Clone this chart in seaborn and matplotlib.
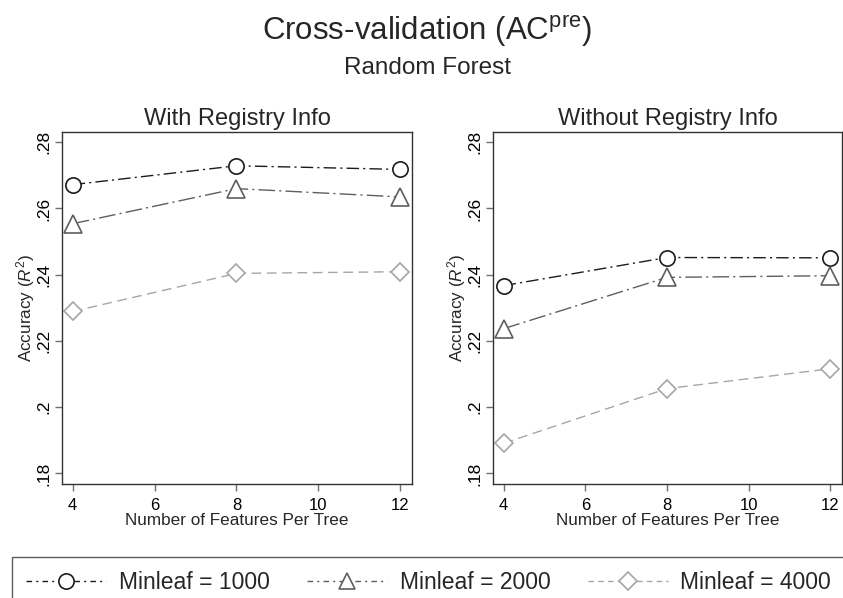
import matplotlib
matplotlib.use("Agg")
import matplotlib.pyplot as plt
from matplotlib.lines import Line2D
import pandas as pd
import seaborn as sns

# Features per tree evaluated
features = [4, 8, 12]
minleaf_labels = ["Minleaf = 1000", "Minleaf = 2000", "Minleaf = 4000"]

# Cross-validated R^2, with registry information
with_1000 = [0.2672, 0.2729, 0.2718]
with_2000 = [0.2554, 0.2660, 0.2635]
with_4000 = [0.2289, 0.2404, 0.2409]

# Cross-validated R^2, without registry information
without_1000 = [0.2367, 0.2452, 0.2451]
without_2000 = [0.2237, 0.2392, 0.2397]
without_4000 = [0.1891, 0.2056, 0.2116]

panel_titles = ["With Registry Info", "Without Registry Info"]
y_ticks = [0.18, 0.20, 0.22, 0.24, 0.26, 0.28]
y_ticklabels = [".18", ".2", ".22", ".24", ".26", ".28"]
x_ticks = [4, 6, 8, 10, 12]

sns.set_style("ticks")
plt.rcParams["font.family"] = ["Liberation Sans", "DejaVu Sans"]
plt.rcParams["mathtext.fontset"] = "custom"
plt.rcParams["mathtext.rm"] = "Liberation Sans"
plt.rcParams["mathtext.it"] = "Liberation Sans:italic"

rows = []
for panel, series in zip(panel_titles,
                         [[with_1000, with_2000, with_4000],
                          [without_1000, without_2000, without_4000]]):
    for lab, vals in zip(minleaf_labels, series):
        for f, v in zip(features, vals):
            rows.append({"panel": panel, "minleaf": lab, "features": f, "r2": v})
df = pd.DataFrame(rows)

styles = {
    "Minleaf = 1000": dict(color="#1c1c1c", marker="o", ms=11,
                           dashes=(9, 3, 1.5, 3), leg_dashes=(4, 3, 1.5, 3)),
    "Minleaf = 2000": dict(color="#5e5e5e", marker="^", ms=12.5,
                           dashes=(12, 3, 1.5, 3), leg_dashes=(4, 3, 1.5, 3)),
    "Minleaf = 4000": dict(color="#a6a6a6", marker="D", ms=9,
                           dashes=(7, 4), leg_dashes=(4, 3)),
}

fig = plt.figure(figsize=(8.43, 5.98), dpi=100)
axes = [fig.add_axes([62 / 843, 1 - 484 / 598, 350 / 843, 352 / 598]),
        fig.add_axes([493 / 843, 1 - 484 / 598, 349 / 843, 352 / 598])]

for ax, panel in zip(axes, panel_titles):
    sub = df[df["panel"] == panel]
    for lab in minleaf_labels:
        st = styles[lab]
        d = sub[sub["minleaf"] == lab]
        sns.lineplot(data=d, x="features", y="r2", ax=ax, color=st["color"],
                     lw=1.0, marker=st["marker"], ms=st["ms"],
                     mfc="white", mec=st["color"], mew=1.2,
                     dashes=st["dashes"], legend=False)
    ax.set_xlim(3.74, 12.29)
    ax.set_ylim(0.1768, 0.2831)
    ax.set_xticks(x_ticks)
    ax.set_xticklabels([str(t) for t in x_ticks], fontsize=12)
    ax.set_yticks(y_ticks)
    ax.set_yticklabels(y_ticklabels, fontsize=12.5, rotation=90, va="center")
    ax.tick_params(axis="both", length=5, width=1, color="#707070", pad=3,
                   labelcolor="black")
    ax.tick_params(axis="x", pad=5)
    for s in ax.spines.values():
        s.set_visible(True)
        s.set_color("#333333")
        s.set_linewidth(1.0)
    ax.set_xlabel("Number of Features Per Tree", fontsize=12.3, labelpad=0)
    ax.set_ylabel(r"Accuracy ($R^2$)", fontsize=12.3, labelpad=-1)
    ax.set_title(panel, fontsize=17, pad=5)

fig.text(427 / 843, 1 - 31 / 598, r"Cross-validation (AC$^{\mathrm{pre}}$)",
         ha="center", va="center", fontsize=22.5)
fig.text(427 / 843, 1 - 68 / 598, "Random Forest", ha="center", va="center",
         fontsize=17.5)

handles = []
for lab in minleaf_labels:
    st = styles[lab]
    handles.append(Line2D([], [], color=st["color"], lw=1.0,
                          dashes=st["leg_dashes"], marker=st["marker"],
                          ms=11 if st["marker"] != "D" else 9.5,
                          mfc="white", mec=st["color"], mew=1.2))
# legend frame runs past the right edge of the figure
leg = fig.legend(handles=handles, labels=minleaf_labels, ncol=3,
                 loc="upper left",
                 bbox_to_anchor=(12 / 843, 1 - 557 / 598, 833 / 843, 0),
                 mode="expand", fontsize=16.5, frameon=True, fancybox=False,
                 handlelength=3.5, handletextpad=0.55, columnspacing=1.3,
                 borderpad=0.6, borderaxespad=0)
leg.get_frame().set_edgecolor("#333333")
leg.get_frame().set_linewidth(1.0)

fig.savefig("out.png", dpi=100, facecolor="white")
